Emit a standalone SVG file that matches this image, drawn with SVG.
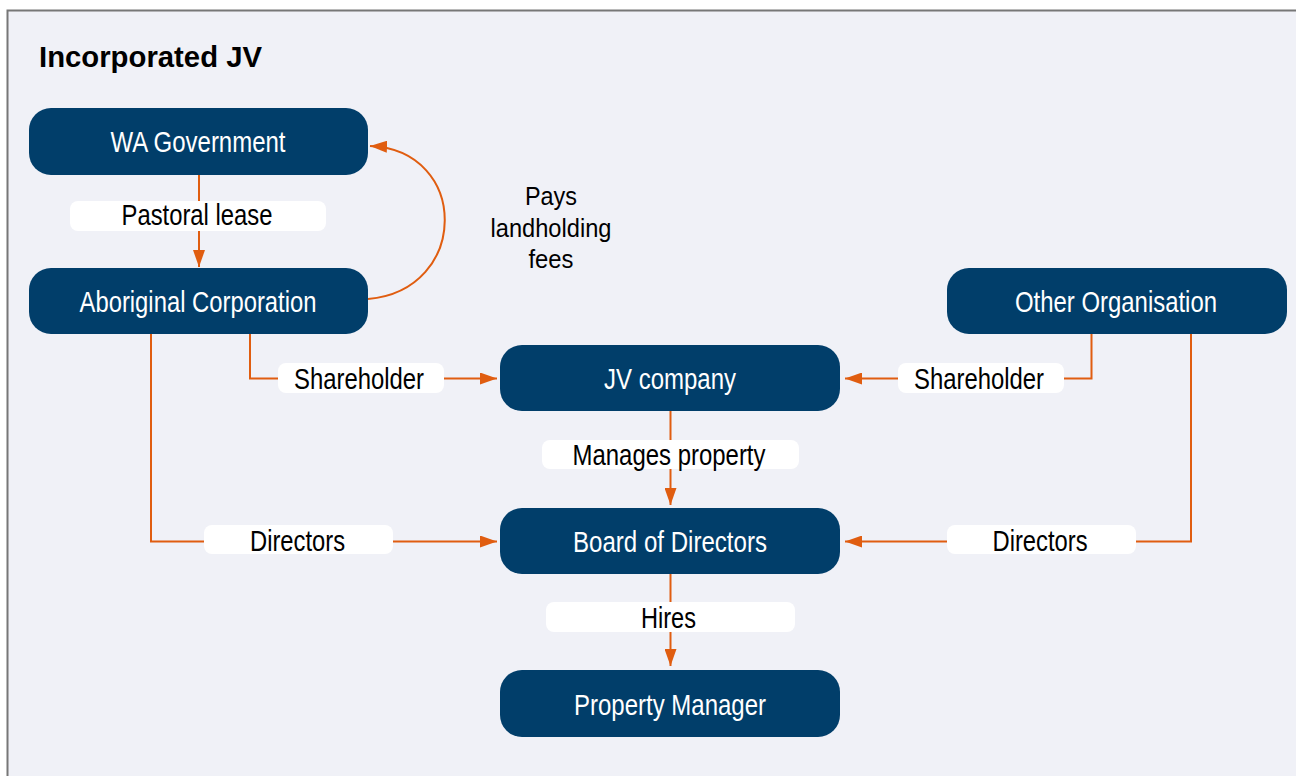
<svg xmlns="http://www.w3.org/2000/svg" width="1296" height="776" viewBox="0 0 1296 776">
<style>
.node rect{fill:#013e6a;}
.node text{fill:#ffffff;font-family:"Liberation Sans",Arial,sans-serif;font-size:29px;text-anchor:middle;}
.lbl rect{fill:#ffffff;}
.lbl text{fill:#000000;font-family:"Liberation Sans",Arial,sans-serif;font-size:29px;text-anchor:middle;}
.conn path{fill:none;stroke:#e05d10;stroke-width:2;}
.note{fill:#000000;font-family:"Liberation Sans",Arial,sans-serif;font-size:26px;text-anchor:middle;}
</style>
<defs>
<marker id="ah" markerWidth="17" markerHeight="12" refX="17" refY="6" orient="auto" markerUnits="userSpaceOnUse">
<path d="M0,0 L17,6 L0,12 Z" fill="#e05d10"/>
</marker>
</defs>
<rect x="0" y="0" width="1296" height="776" fill="#ffffff"/>
<rect x="7.5" y="10.5" width="1310" height="800" fill="#f0f1f7" stroke="#777777" stroke-width="2"/>
<text x="39" y="67" font-family="Liberation Sans,Arial,sans-serif" font-size="29" font-weight="bold" fill="#000" textLength="223" lengthAdjust="spacingAndGlyphs">Incorporated JV</text>

<g id="connectors" class="conn">
<path d="M199,175 V267" marker-end="url(#ah)"/>
<path d="M368,299 C470,290 470,150 370,146" marker-end="url(#ah)"/>
<path d="M250,334 V378.5 H497" marker-end="url(#ah)"/>
<path d="M151,334 V541.5 H497" marker-end="url(#ah)"/>
<path d="M1091.5,334 V378.5 H845" marker-end="url(#ah)"/>
<path d="M1191,334 V541.5 H845" marker-end="url(#ah)"/>
<path d="M670.5,411 V505" marker-end="url(#ah)"/>
<path d="M670.5,574 V666" marker-end="url(#ah)"/>
</g>

<g id="label-pastoral" class="lbl"><rect x="70" y="201" width="256" height="30" rx="8"/><text x="197" y="225" textLength="151" lengthAdjust="spacingAndGlyphs">Pastoral lease</text></g>
<g id="label-sh-left" class="lbl"><rect x="278" y="363" width="166" height="30" rx="8"/><text x="359" y="389" textLength="130" lengthAdjust="spacingAndGlyphs">Shareholder</text></g>
<g id="label-sh-right" class="lbl"><rect x="898" y="363" width="166" height="30" rx="8"/><text x="979" y="389" textLength="130" lengthAdjust="spacingAndGlyphs">Shareholder</text></g>
<g id="label-manages" class="lbl"><rect x="542" y="440" width="257" height="29" rx="8"/><text x="669" y="465" textLength="193" lengthAdjust="spacingAndGlyphs">Manages property</text></g>
<g id="label-dir-left" class="lbl"><rect x="204" y="525" width="189" height="29" rx="8"/><text x="297.5" y="551" textLength="95" lengthAdjust="spacingAndGlyphs">Directors</text></g>
<g id="label-dir-right" class="lbl"><rect x="947" y="525" width="189" height="29" rx="8"/><text x="1040" y="551" textLength="95" lengthAdjust="spacingAndGlyphs">Directors</text></g>
<g id="label-hires" class="lbl"><rect x="546" y="602" width="249" height="30" rx="8"/><text x="668.5" y="628" textLength="55" lengthAdjust="spacingAndGlyphs">Hires</text></g>

<g id="label-fees">
<text class="note" x="551" y="205" textLength="52" lengthAdjust="spacingAndGlyphs">Pays</text>
<text class="note" x="551" y="237" textLength="121" lengthAdjust="spacingAndGlyphs">landholding</text>
<text class="note" x="551" y="268" textLength="45" lengthAdjust="spacingAndGlyphs">fees</text>
</g>

<g id="wa-government" class="node"><rect x="29" y="108" width="339" height="67" rx="22"/><text x="198" y="152" textLength="175" lengthAdjust="spacingAndGlyphs">WA Government</text></g>
<g id="aboriginal-corporation" class="node"><rect x="29" y="268" width="339" height="66" rx="22"/><text x="198" y="312" textLength="237" lengthAdjust="spacingAndGlyphs">Aboriginal Corporation</text></g>
<g id="other-organisation" class="node"><rect x="947" y="268" width="340" height="66" rx="22"/><text x="1116" y="312" textLength="202" lengthAdjust="spacingAndGlyphs">Other Organisation</text></g>
<g id="jv-company" class="node"><rect x="500" y="345" width="340" height="66" rx="22"/><text x="670" y="389" textLength="132" lengthAdjust="spacingAndGlyphs">JV company</text></g>
<g id="board-of-directors" class="node"><rect x="500" y="508" width="340" height="66" rx="22"/><text x="670" y="552" textLength="194" lengthAdjust="spacingAndGlyphs">Board of Directors</text></g>
<g id="property-manager" class="node"><rect x="500" y="670" width="340" height="67" rx="22"/><text x="670" y="715" textLength="192" lengthAdjust="spacingAndGlyphs">Property Manager</text></g>
</svg>
